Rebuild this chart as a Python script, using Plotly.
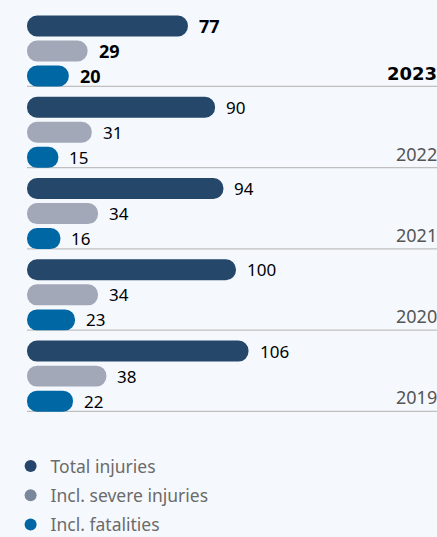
import plotly.graph_objects as go

years = ["2023", "2022", "2021", "2020", "2019"]
total_injuries = [77, 90, 94, 100, 106]
severe_injuries = [29, 31, 34, 34, 38]
fatalities = [20, 15, 16, 23, 22]
series_names = ["Total injuries", "Incl. severe injuries", "Incl. fatalities"]

bar_colors = ["#25476a", "#a2a8b8", "#0067a5"]
legend_colors = ["#25466a", "#7a869b", "#0066a4"]
BG = "#f5f9fd"
FONT = "Noto Sans"

series = [total_injuries, severe_injuries, fatalities]
offsets = [-0.308, 0.0, 0.308]
BAR_W = 0.258
LINE_OFF = 0.435
EPS = 0.01  # tiny floating base so both bar ends get rounded

fig = go.Figure()

for k, vals in enumerate(series):
    ypos = [i + offsets[k] for i in range(len(years))]
    fig.add_trace(go.Bar(
        y=ypos, x=[v - EPS for v in vals], base=[EPS] * len(vals),
        orientation="h", width=BAR_W,
        marker=dict(color=bar_colors[k], cornerradius="50%", line=dict(width=0)),
        showlegend=False, customdata=vals, hovertemplate="%{customdata}<extra></extra>"))
    for i, v in enumerate(vals):
        bold = (i == 0)
        fig.add_annotation(
            x=v, y=i + offsets[k], xref="x", yref="y", text=(f"<b>{v}</b>" if bold else str(v)),
            showarrow=False, xanchor="left", yanchor="middle", xshift=9,
            font=dict(family=FONT, size=(18 if bold else 17), color="#000000"))

# legend entries
for k, name in enumerate(series_names):
    fig.add_trace(go.Scatter(
        x=[None], y=[None], mode="markers", name=name, legendgroup=name,
        marker=dict(color=legend_colors[k], size=12, symbol="circle")))

# separator lines and year labels
for i, yr in enumerate(years):
    fig.add_shape(type="line", xref="paper", yref="y", x0=0, x1=1,
                  y0=i + LINE_OFF, y1=i + LINE_OFF, layer="below",
                  line=dict(color="#bfbfbf", width=1.3))
    bold = (i == 0)
    fig.add_annotation(
        x=1, y=i + LINE_OFF, xref="paper", yref="y",
        text=(f"<b>{yr}</b>" if bold else yr), showarrow=False,
        xanchor="right", yanchor="bottom", yshift=0, xshift=2,
        font=dict(family=("DejaVu Sans" if bold else FONT), size=18,
                  color=("#000000" if bold else "#555555")))

fig.update_layout(
    width=437, height=537,
    margin=dict(l=27, r=0, t=0, b=117, autoexpand=False),
    paper_bgcolor=BG, plot_bgcolor=BG,
    barmode="overlay",
    xaxis=dict(range=[0, 196.2], visible=False, fixedrange=True),
    yaxis=dict(range=[4.54, -0.628], visible=False, fixedrange=True),
    showlegend=True,
    legend=dict(x=-0.04, xanchor="left", y=-0.067, yanchor="top",
                font=dict(family=FONT, size=17.5, color="#6b6b6b"),
                tracegroupgap=3.5, bgcolor="rgba(0,0,0,0)"),
    font=dict(family=FONT),
)

fig.write_html("out.html", config={"displayModeBar": False},
               post_script="document.body.style.margin='0';document.body.style.overflow='hidden';")
